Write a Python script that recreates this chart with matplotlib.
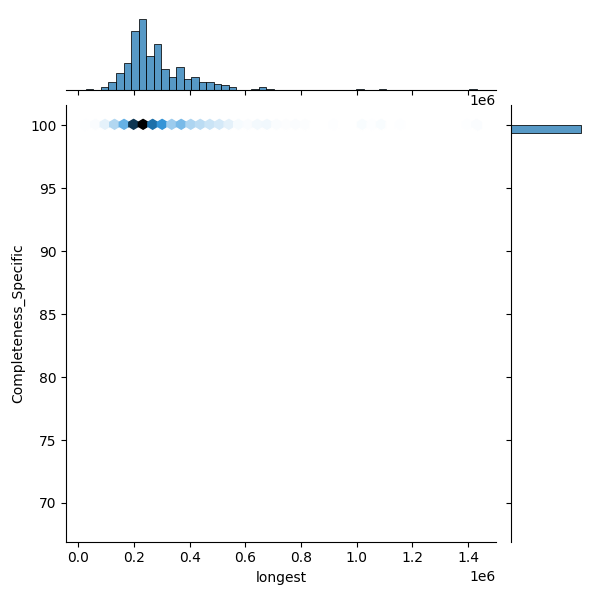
import numpy as np
import pandas as pd
import seaborn as sns
import matplotlib
matplotlib.use("Agg")
import matplotlib.pyplot as plt

# relative counts per histogram bin of "longest"
bin_lo = 28000
bin_hi = 1430000
n_bins = 52
bin_counts = [1, 1, 5, 12, 24, 38, 83, 100, 48, 65, 29, 18, 32, 15, 19, 12,
              11, 9, 8, 4, 1, 1, 2, 4, 2, 1, 1, 1, 1, 1, 0, 0, 1, 0, 0, 0,
              2, 1, 0, 2, 0, 1, 0, 0, 0, 0, 0, 0, 0, 0, 0, 2]
scale = 5  # records per unit of bar height (guess)

# nearly every record is 100% complete, one outlier low value
main_completeness = 100.0
outlier_longest = 300000
outlier_completeness = 68.5

edges = np.linspace(bin_lo, bin_hi, n_bins + 1)
longest = []
for lo, hi, c in zip(edges[:-1], edges[1:], bin_counts):
    k = c * scale
    if k:
        # spread the records of a bin across its width
        longest.extend(lo + (hi - lo) * (np.arange(k) + 0.5) / k)
longest = np.array(longest + [bin_lo, bin_hi, outlier_longest])
completeness = np.full(len(longest), main_completeness)
completeness[-1] = outlier_completeness

df = pd.DataFrame({"longest": longest, "Completeness_Specific": completeness})

g = sns.jointplot(data=df, x="longest", y="Completeness_Specific", kind="hex",
                  joint_kws=dict(gridsize=41), marginal_kws=dict(bins=n_bins))
g.figure.savefig("out.png", dpi=100)
